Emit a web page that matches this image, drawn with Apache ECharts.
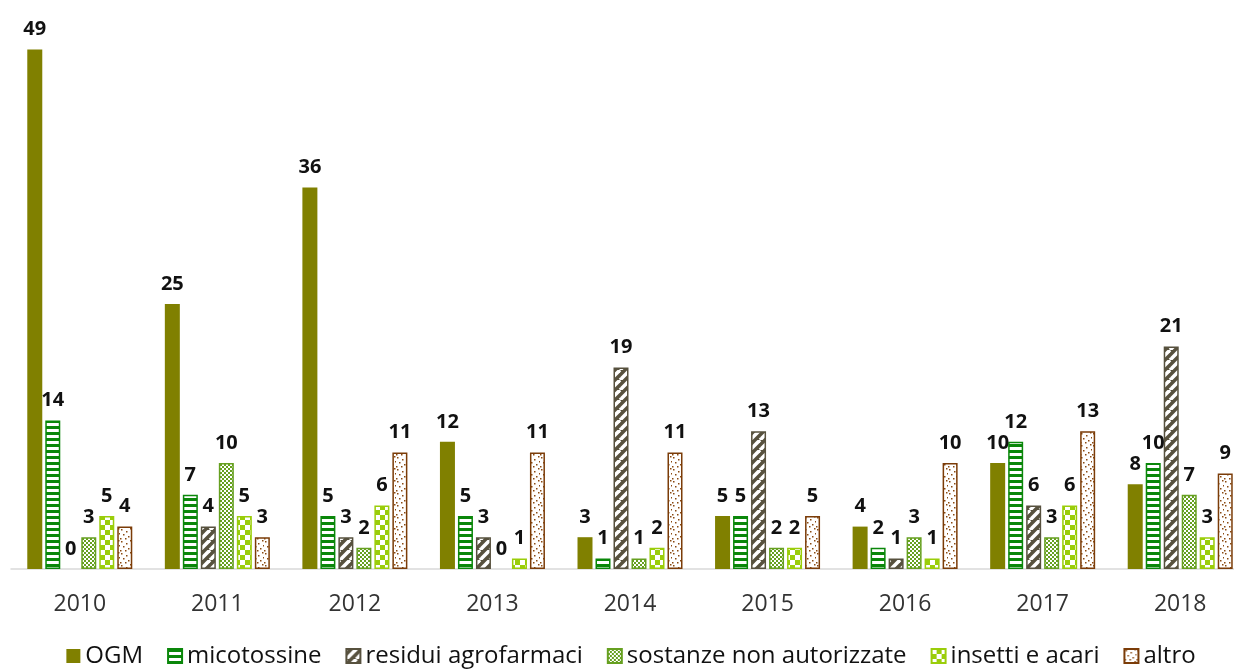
<!DOCTYPE html>
<html>
<head>
<meta charset="utf-8">
<script src="https://cdn.jsdelivr.net/npm/echarts@6/dist/echarts.min.js"></script>
<style>
html,body{margin:0;padding:0;background:#fff;overflow:hidden;width:1234px;height:670px;}
#chart{width:1262px;height:670px;}
</style>
</head>
<body>
<div id="chart"></div>
<script>
var categories = ['2010','2011','2012','2013','2014','2015','2016','2017','2018'];
var seriesNames = ['OGM','micotossine','residui agrofarmaci','sostanze non autorizzate','insetti e acari','altro'];
var ogm         = [49, 25, 36, 12, 3, 5, 4, 10, 8];
var micotossine = [14, 7, 5, 5, 1, 5, 2, 12, 10];
var residui     = [0, 4, 3, 3, 19, 13, 1, 6, 21];
var sostanze    = [3, 10, 2, 0, 1, 2, 3, 3, 7];
var insetti     = [5, 5, 6, 1, 2, 2, 1, 6, 3];
var altro       = [4, 3, 11, 11, 11, 5, 10, 13, 9];

function tile(w, h, draw) {
  var c = document.createElement('canvas');
  c.width = w; c.height = h;
  var ctx = c.getContext('2d');
  draw(ctx, w, h);
  return {image: c, repeat: 'repeat'};
}
var patOGM = '#808000';
var patMico = tile(8, 6, function(ctx, w, h){
  ctx.fillStyle = '#0a870a'; ctx.fillRect(0,0,w,h);
  ctx.fillStyle = '#ffffff'; ctx.fillRect(0,3,w,3);
});
var patRes = tile(10, 10, function(ctx, w, h){
  ctx.fillStyle = '#57513e'; ctx.fillRect(0,0,w,h);
  ctx.strokeStyle = '#ffffff'; ctx.lineWidth = 3.6;
  for (var k = -1; k <= 1; k++) {
    ctx.beginPath(); ctx.moveTo(k*w, h); ctx.lineTo(k*w + w, 0); ctx.stroke();
  }
});
var patSost = tile(4, 4, function(ctx, w, h){
  ctx.fillStyle = '#ffffff'; ctx.fillRect(0,0,w,h);
  ctx.fillStyle = '#66a020'; ctx.fillRect(0,0,2,2); ctx.fillRect(2,2,2,2);
});
var patIns = tile(10, 10, function(ctx, w, h){
  ctx.fillStyle = '#9acd0a'; ctx.fillRect(0,0,w,h);
  ctx.fillStyle = '#ffffff'; ctx.fillRect(0,0,5,5); ctx.fillRect(5,5,5,5);
});
var patAltro = tile(12, 12, function(ctx, w, h){
  ctx.fillStyle = '#ffffff'; ctx.fillRect(0,0,w,h);
  ctx.fillStyle = '#8a4a12';
  var pts = [[1,1],[6,3],[10,0],[3,6],[8,8],[0,10],[5,10],[11,5]];
  pts.forEach(function(p){ ctx.fillRect(p[0], p[1], 1.5, 1.5); });
});

var fills   = [patOGM, patMico, patRes, patSost, patIns, patAltro];
var borders = ['#808000', '#0a870a', '#57513e', '#66a020', '#9acd0a', '#7b3c08'];
var values  = [ogm, micotossine, residui, sostanze, insetti, altro];

var chart = echarts.init(document.getElementById('chart'), null, {renderer: 'canvas'});
var series = seriesNames.map(function(name, i){
  return {
    name: name,
    type: 'bar',
    data: values[i].map(function(v){
      return v === 0 ? {value: v, itemStyle: {borderWidth: 0}} : v;
    }),
    barWidth: 15,
    barGap: '20%',
    itemStyle: {color: fills[i], borderColor: borders[i], borderWidth: i === 0 ? 0 : 1.5},
    label: {
      show: true, position: 'top', distance: 10,
      color: '#111', fontWeight: 'bold', fontSize: 20, fontFamily: 'Open Sans'
    }
  };
});
chart.setOption({
  animation: false,
  backgroundColor: '#ffffff',
  textStyle: {fontFamily: 'Open Sans'},
  grid: {left: 11, right: 13, top: 39, bottom: 101, containLabel: false},
  legend: {
    bottom: -3, left: 'center',
    itemWidth: 14, itemHeight: 14, itemGap: 24,
    icon: 'rect',
    textStyle: {fontSize: 24, color: '#111', fontFamily: 'Open Sans'},
    data: seriesNames
  },
  xAxis: {
    type: 'category', data: categories,
    axisLine: {lineStyle: {color: '#d9d9d9', width: 1.5}},
    axisTick: {show: false},
    axisLabel: {fontSize: 23, color: '#333', margin: 24, fontFamily: 'Open Sans'}
  },
  yAxis: {
    type: 'value', min: 0, max: 50, show: false,
    splitLine: {show: false}
  },
  series: series
});
</script>
</body>
</html>
